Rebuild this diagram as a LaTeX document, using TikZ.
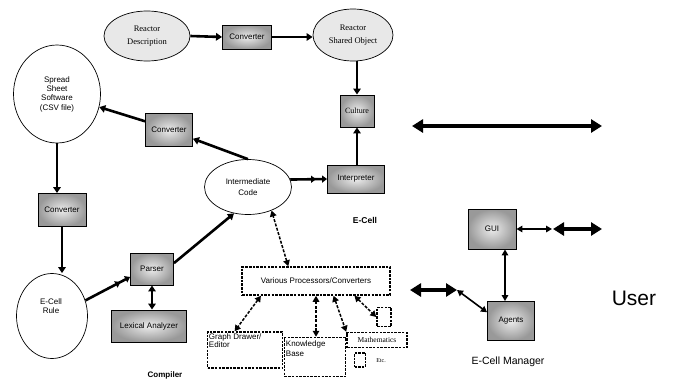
\documentclass[tikz,border=0pt]{standalone}
\usepackage{fontspec}
\setmainfont{Liberation Sans}
\newfontfamily\myserif{Liberation Serif}
\usetikzlibrary{arrows.meta,shapes.geometric,calc}
\newcommand\myfs{\fontsize{8}{9.5}\selectfont}
\begin{document}
\begin{tikzpicture}[x=1pt,y=-1pt,
  gbox/.style={rectangle, draw=black, line width=0.9pt, inner color=gray!15, outer color=gray!80,
    inner sep=1pt, font=\myfs, align=center},
  ell/.style={ellipse, draw=black, line width=0.7pt, inner sep=0pt, font=\myfs, align=center},
  dbox/.style={rectangle, draw=black, line width=1.5pt, dash pattern=on 2.5pt off 1.2pt,
    fill=white, inner sep=1pt, font=\myfs, align=left},
  txt/.style={inner sep=0pt, font=\myfs, align=left},
  arr/.style={line width=2.6pt, -{Triangle[length=6pt,width=7.5pt]}},
  arrtwo/.style={line width=2.6pt, -{Triangle[length=5pt,width=7pt,sep=6pt]Triangle[length=5pt,width=7pt]}},
  barr/.style={line width=2.6pt, {Triangle[length=6pt,width=7.5pt]}-{Triangle[length=6pt,width=7.5pt]}},
  darr/.style={line width=1.5pt, dash pattern=on 3pt off 1.5pt,
    {Triangle[length=6pt,width=6.5pt]}-{Triangle[length=6pt,width=6.5pt]}},
  bigarr/.style={line width=4.5pt, {Triangle[length=11pt,width=13pt]}-{Triangle[length=11pt,width=13pt]}},
  thinarr/.style={line width=1.6pt, {Triangle[length=6pt,width=6.5pt]}-{Triangle[length=6pt,width=6.5pt]}}
]
\useasboundingbox (0,0) rectangle (675,383);
\fill[white] (0,0) rectangle (675,383);

% top row
\node[ell, fill=gray!18, minimum width=86, minimum height=50, font=\myserif\fontsize{8.5}{12.5}\selectfont] (rd) at (147,36) {Reactor\\Description};
\node[gbox, minimum width=49, minimum height=24] (conv1) at (247,37) {Converter};
\node[ell, fill=gray!18, minimum width=80, minimum height=52, font=\myserif\fontsize{8.5}{12.5}\selectfont] (rso) at (353,35) {Reactor\\Shared Object};
\node[gbox, minimum width=34, minimum height=32, font=\myserif\fontsize{8}{9.5}\selectfont] (cult) at (357,111) {Culture};
\node[gbox, minimum width=57, minimum height=28] (interp) at (356,179) {Interpreter};

% middle
\node[ell, fill=white, minimum width=87, minimum height=55, font=\fontsize{8}{11}\selectfont] (ic) at (248,187) {Intermediate\\Code};
\node[ell, fill=white, minimum width=87, minimum height=98, font=\fontsize{8}{9.3}\selectfont] (sss) at (57,94) {Spread\\Sheet\\Software\\(CSV file)};
\node[gbox, minimum width=47, minimum height=33] (conv2) at (169,130) {Converter};
\node[gbox, minimum width=48, minimum height=33] (conv3) at (62,210) {Converter};

% compiler
\node[ell, fill=white, minimum width=71, minimum height=85] (ecr) at (52,316) {};
\node[txt, align=center, font=\fontsize{8}{9}\selectfont] (ecrt) at (51,306) {E-Cell\\Rule};
\node[gbox, minimum width=43, minimum height=32] (parser) at (152,269) {Parser};
\node[gbox, minimum width=75, minimum height=32] (lex) at (149,326) {Lexical Analyzer};
\node[font=\bfseries\fontsize{8}{9}\selectfont] (compiler) at (165,375) {Compiler};

% processors
\node[dbox, minimum width=148, minimum height=28, align=center] (vpc) at (316,281) {Various Processors/Converters};
\node[dbox, minimum width=75, minimum height=36] (gde) at (245,350) {};
\node[txt, anchor=north west, font=\fontsize{8}{8.5}\selectfont] (gdet) at ($(gde.north west)+(2,2)$) {Graph Drawer/\\Editor};
\node[dbox, minimum width=61, minimum height=39] (kb) at (315,357) {};
\node[txt, anchor=north west, font=\fontsize{8}{10}\selectfont] (kbt) at ($(kb.north west)+(2,4)$) {Knowledge\\Base};
\node[dbox, minimum width=60, minimum height=15, align=center, font=\myserif\fontsize{7.5}{8}\selectfont] (math) at (377,340) {Mathematics};
\node[dbox, minimum width=14, minimum height=19] (sm1) at (384,317) {};
\node[dbox, minimum width=11, minimum height=14] (sm2) at (360,360) {};
\node[txt, font=\myserif\fontsize{6}{7}\selectfont] (etc) at (381,361) {Etc.};

% labels
\node[font=\bfseries\fontsize{8.5}{10}\selectfont] (ecell) at (365,220) {E-Cell};

% manager
\node[gbox, minimum width=48, minimum height=40] (gui) at (492,229) {GUI};
\node[gbox, minimum width=47, minimum height=39] (agents) at (511,321) {Agents};
\node[font=\fontsize{10.5}{12}\selectfont] (ecm) at (508,362) {E-Cell Manager};
\node[font=\fontsize{21}{24}\selectfont] (user) at (634,298) {User};

% free ends
\coordinate (b1) at (412,126);
\coordinate (b2) at (602,126);
\coordinate (g1) at (552,229);
\coordinate (g1b) at (553,229);
\coordinate (g2) at (602,229);
\coordinate (a1) at (410,290);
\coordinate (a2) at (457,290);
\coordinate (gs) at ($(gui.south)+(13,0)$);
\coordinate (an) at ($(agents.north)+(-6,0)$);

% connectors
\draw[arr] (rd.east) -- (conv1.west);
\draw[arr] (conv1.east) -- (rso.west |- conv1.east);
\draw[arr] (rso.south -| cult.north) -- (cult.north);
\draw[arr] (interp.north -| cult.south) -- (cult.south);
\draw[arrtwo] (ic.10) -- (interp.west);
\draw[arr] (ic.north) -- (conv2.-20);
\draw[arr] (conv2.160) -- (sss);
\draw[arr] (sss.south) -- (sss.south |- conv3.north);
\draw[arr] (conv3.south) -- (conv3.south |- ecr.north);
\draw[arrtwo] (ecr.25) -- (parser.-160);
\draw[barr] (parser.south) -- (parser.south |- lex.north);
\draw[arr] (parser.15) -- (ic.-118);

\draw[darr] (vpc.152) -- (ic.-45);
\draw[darr] (vpc.-165) -- (gde.119);
\draw[darr] (vpc.south) -- (vpc.south |- kb.north);
\draw[darr] (vpc.-40) -- (math.north west);
\draw[darr] (vpc.-21) -- (sm1.west);

\draw[bigarr] (b1) -- (b2);
\draw[thinarr] (gui.east) -- (g1);
\draw[bigarr, line width=4pt] (g1b) -- (g2);
\draw[bigarr, line width=4pt] (a1) -- (a2);
\draw[thinarr] (a2) -- (agents.160);
\draw[thinarr] (gs) -- (an);
\end{tikzpicture}
\end{document}
